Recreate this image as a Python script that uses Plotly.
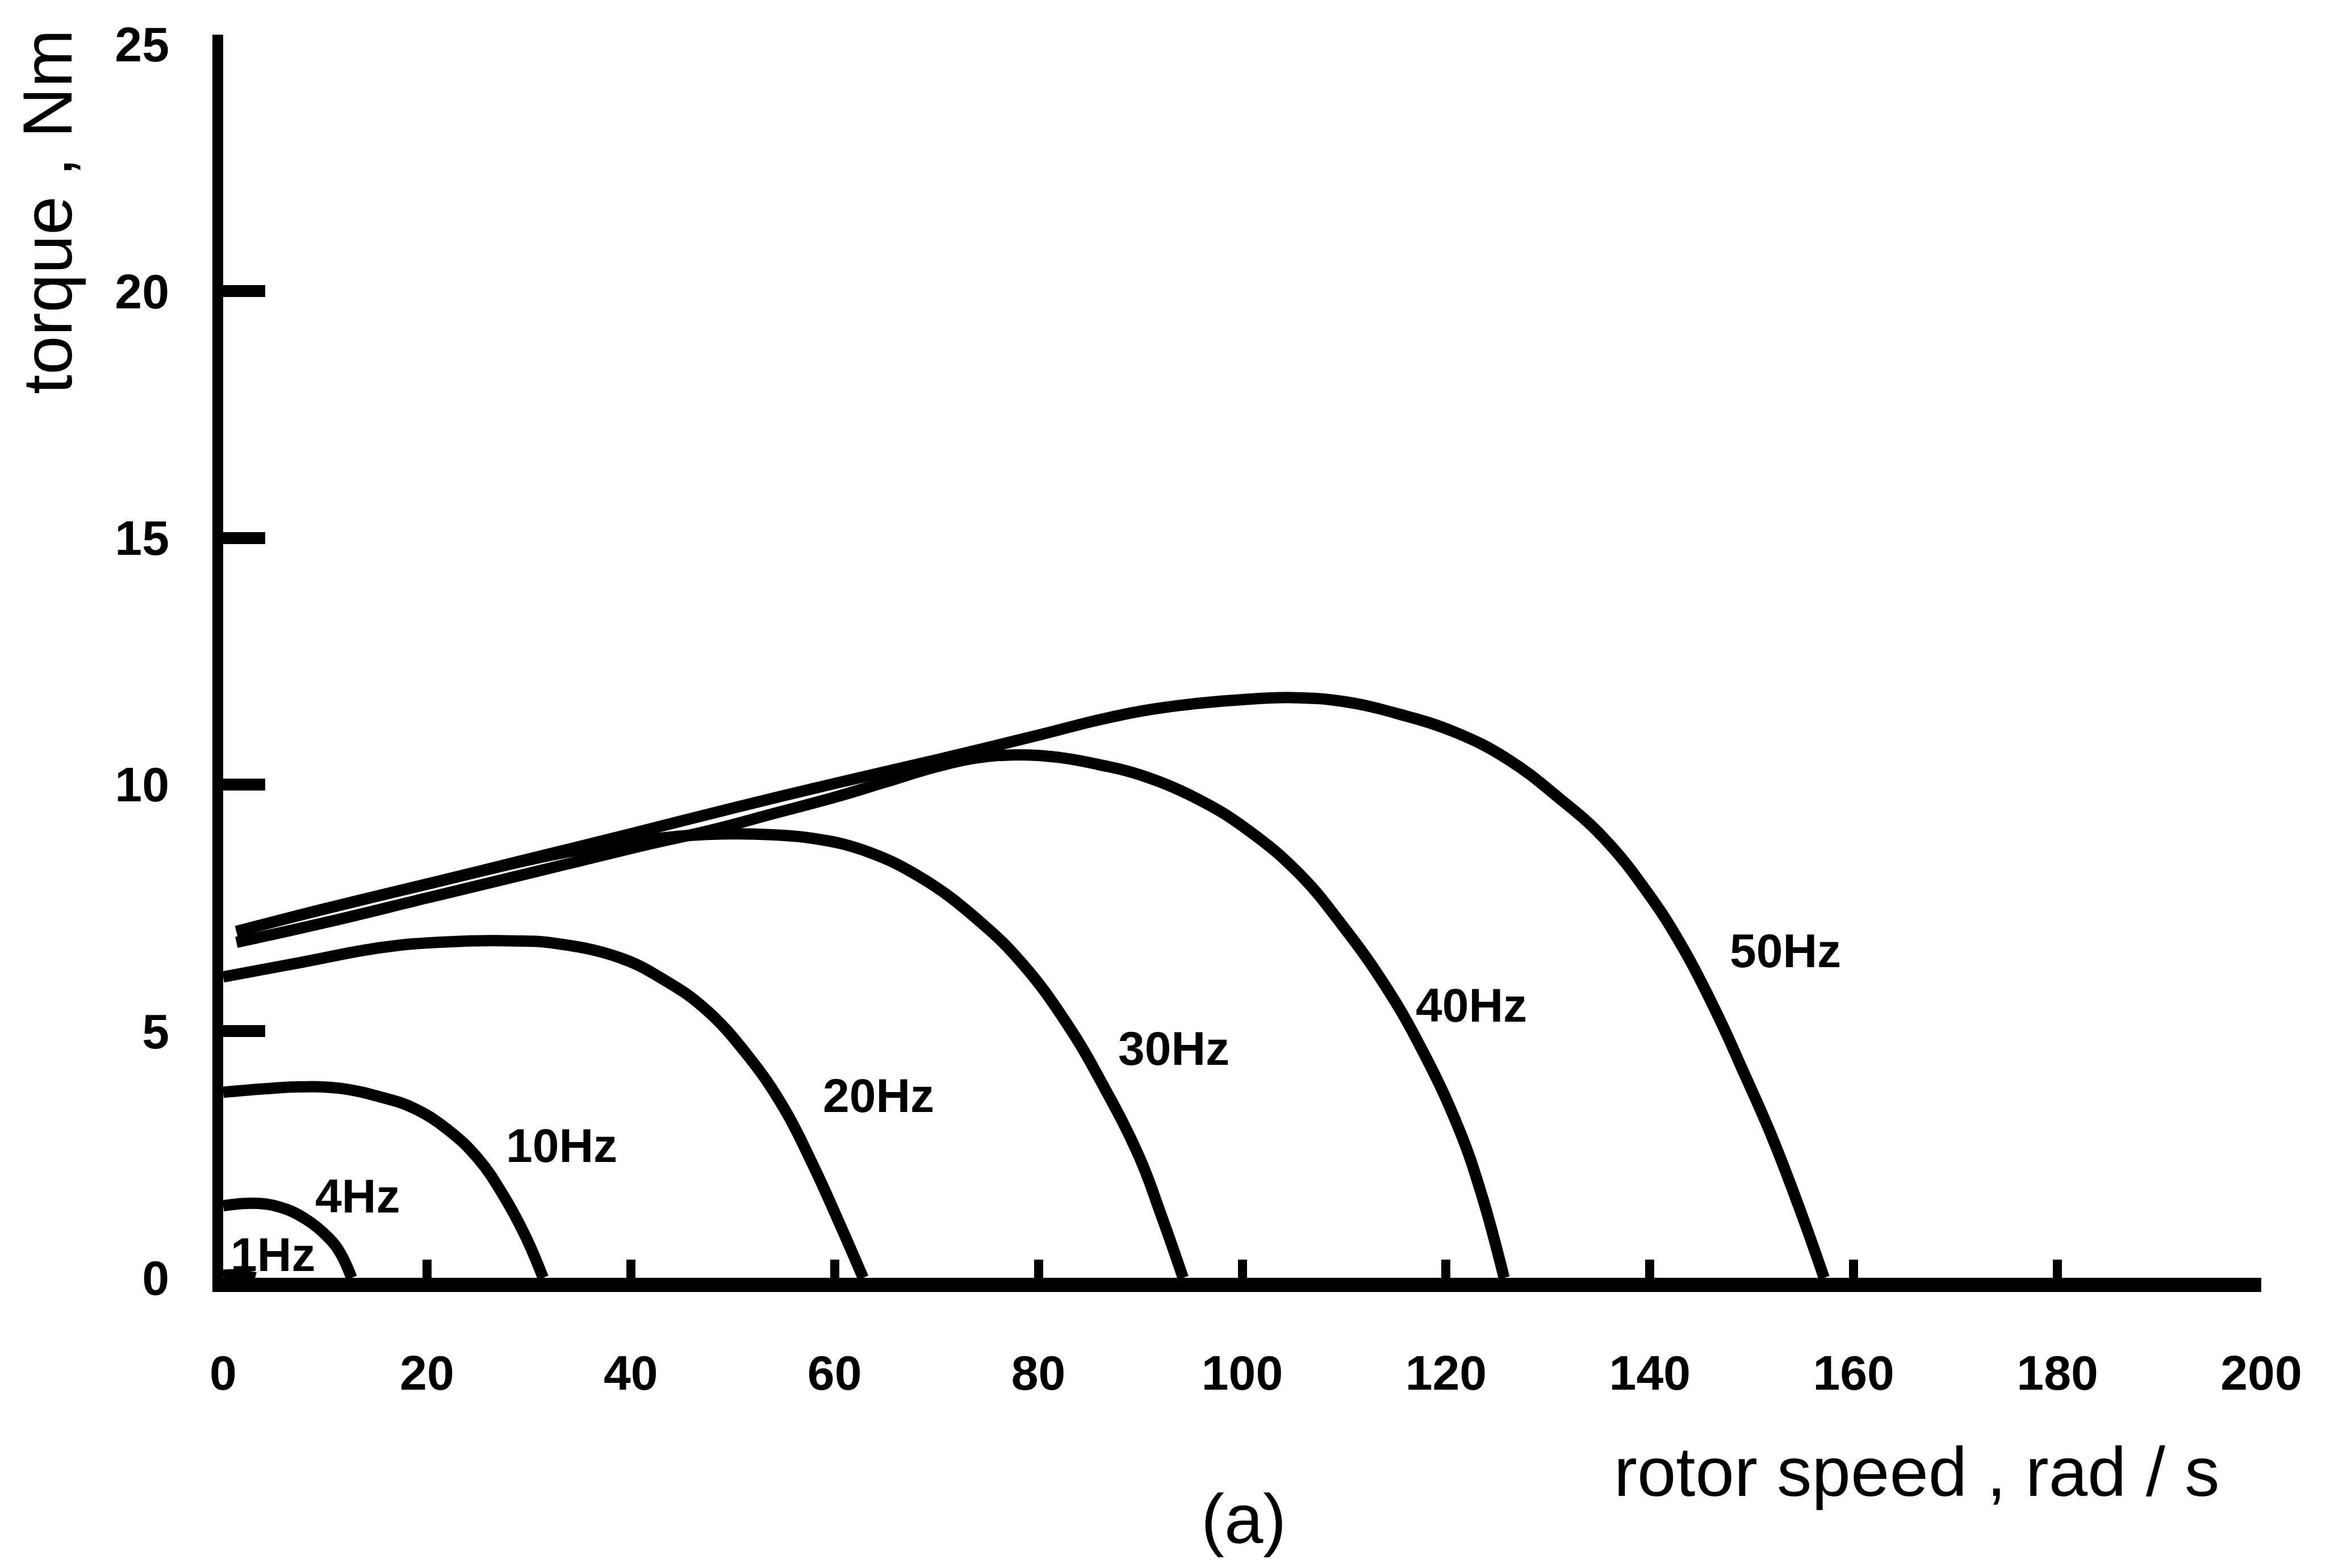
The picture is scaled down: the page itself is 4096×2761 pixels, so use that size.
import plotly.graph_objects as go

# ---------------- data ----------------
speed_1 = [0, 1.0, 2.0, 2.7, 3.14]
torque_1 = [0.05, 0.06, 0.04, 0.02, 0.0]

speed_4 = [0, 3.1, 5.6, 8.1, 10.3, 11.5, 12.6]
torque_4 = [1.46, 1.51, 1.43, 1.19, 0.82, 0.5, 0.0]

speed_10 = [0, 4, 7.3, 11.5, 15.7, 18.7, 22, 25, 27.5, 29.6, 31.4]
torque_10 = [3.76, 3.83, 3.87, 3.84, 3.65, 3.44, 3.01, 2.42, 1.67, 0.87, 0.0]

speed_20 = [0, 7.3, 15.7, 22, 28.4, 32.6, 38.9, 43.1, 47.3, 51.5, 55, 57.8, 60.4, 62.8]
torque_20 = [6.1, 6.38, 6.7, 6.81, 6.83, 6.78, 6.49, 6.06, 5.45, 4.5, 3.45, 2.32, 1.14, 0.0]

speed_30 = [1.3, 10, 20, 30, 34, 38, 42, 46, 50, 54, 57.8, 62.8, 68.5, 74.2, 78.5,
            82.8, 86.3, 89.9, 92, 94.2]
torque_30 = [7.02, 7.48, 7.98, 8.47, 8.64, 8.78, 8.89, 8.97, 9.0, 8.98, 8.91, 8.67,
             8.11, 7.23, 6.35, 5.15, 3.92, 2.45, 1.3, 0.0]

speed_40 = [1.3, 10, 20, 30, 36, 42, 48, 54, 60, 65, 70, 74, 78, 82, 86, 89.9, 95.6,
            100.6, 105.6, 109.8, 114.1, 117.7, 121.2, 123.4, 125.7]
torque_40 = [6.8, 7.2, 7.7, 8.2, 8.5, 8.8, 9.08, 9.41, 9.74, 10.05, 10.36, 10.54, 10.6,
             10.55, 10.4, 10.2, 9.71, 9.07, 8.19, 7.15, 5.9, 4.6, 3.05, 1.75, 0.0]

speed_50 = [1.3, 10, 20, 30, 40, 50, 60, 70, 80, 87, 93, 100, 105, 110, 115.5, 121,
            126, 131, 135.5, 139.8, 143.3, 146.9, 149, 151.9, 154.7, 157.1]
torque_50 = [7.02, 7.48, 7.98, 8.49, 9.0, 9.52, 10.02, 10.5, 11.0, 11.36, 11.58, 11.72,
             11.76, 11.68, 11.42, 11.05, 10.52, 9.74, 8.91, 7.8, 6.67, 5.22, 4.26, 2.9,
             1.4, 0.0]

label_text = ["1Hz", "4Hz", "10Hz", "20Hz", "30Hz", "40Hz", "50Hz"]

x_ticks = [0, 20, 40, 60, 80, 100, 120, 140, 160, 180, 200]
y_ticks = [0, 5, 10, 15, 20, 25]
x_title = "rotor speed , rad / s"
y_title = "torque , Nm"
caption = "(a)"

# ---------------- layout constants ----------------
W, H = 4096, 2761
L, R, T, B = 393, 114, 61, 511
PW, PH = W - L - R, H - T - B
FONT = "Liberation Sans, Arial, Helvetica, sans-serif"

label_x = [4.9, 13.2, 33.2, 64.3, 93.3, 122.5, 153.3]
label_y = [0.47, 1.66, 2.68, 3.70, 4.65, 5.53, 6.63]


def px(xp):
    return (xp - L) / PW


def py(yp):
    return (H - B - yp) / PH


fig = go.Figure()
curves = [(speed_1, torque_1), (speed_4, torque_4), (speed_10, torque_10),
          (speed_20, torque_20), (speed_30, torque_30), (speed_40, torque_40),
          (speed_50, torque_50)]
for sx, ty in curves:
    fig.add_trace(go.Scatter(
        x=sx, y=ty, mode="lines",
        line=dict(color="black", width=20, shape="spline", smoothing=1.2),
        hoverinfo="skip", showlegend=False))

# empty trace that makes the label-only overlay axes exist
fig.add_trace(go.Scatter(x=[], y=[], xaxis="x2", yaxis="y2", mode="lines",
                         hoverinfo="skip", showlegend=False))

annotations = []
for t, x, y in zip(label_text, label_x, label_y):
    annotations.append(dict(
        text=t, x=x, y=y, xref="x", yref="y", showarrow=False,
        xanchor="center", yanchor="middle",
        font=dict(family=FONT, size=84, color="black", weight="bold")))

annotations.append(dict(
    text=y_title, x=px(83), y=py(373), xref="paper", yref="paper", showarrow=False,
    textangle=-90, xanchor="center", yanchor="middle",
    font=dict(family=FONT, size=123, color="black")))
annotations.append(dict(
    text=x_title, x=px(3375), y=py(2591), xref="paper", yref="paper", showarrow=False,
    xanchor="center", yanchor="middle",
    font=dict(family=FONT, size=123, color="black")))
annotations.append(dict(
    text=caption, x=px(2190), y=py(2674), xref="paper", yref="paper", showarrow=False,
    xanchor="center", yanchor="middle",
    font=dict(family=FONT, size=123, color="black")))

tickfont = dict(family=FONT, size=86, color="black", weight="bold")

fig.update_layout(
    width=W, height=H,
    margin=dict(l=L, r=R, t=T, b=B, autoexpand=False),
    paper_bgcolor="white", plot_bgcolor="white",
    showlegend=False,
    annotations=annotations,
    xaxis=dict(range=[0, 200], tickvals=x_ticks[1:-1], ticks="inside", ticklen=32,
               tickwidth=16, tickcolor="black", showticklabels=False,
               showline=True, linewidth=25, linecolor="black",
               showgrid=False, zeroline=False, fixedrange=True),
    yaxis=dict(range=[0, 25.2], tickvals=y_ticks[1:-1], ticks="inside", ticklen=74,
               tickwidth=21, tickcolor="black", showticklabels=False,
               showline=True, linewidth=19, linecolor="black",
               showgrid=False, zeroline=False, fixedrange=True),
    xaxis2=dict(overlaying="x", anchor="y2", side="bottom", range=[0, 200],
                tickmode="array", tickvals=x_ticks,
                ticktext=[str(v) for v in x_ticks], ticks="",
                showline=False, showgrid=False, zeroline=False,
                tickfont=tickfont, ticklabelstandoff=110, fixedrange=True),
    yaxis2=dict(overlaying="y", anchor="x2", side="left", range=[0, 25.2],
                tickmode="array", tickvals=y_ticks,
                ticktext=[str(v) for v in y_ticks], ticks="",
                showline=False, showgrid=False, zeroline=False,
                tickfont=tickfont, ticklabelstandoff=94, fixedrange=True),
)

fig.write_html("out.html")
